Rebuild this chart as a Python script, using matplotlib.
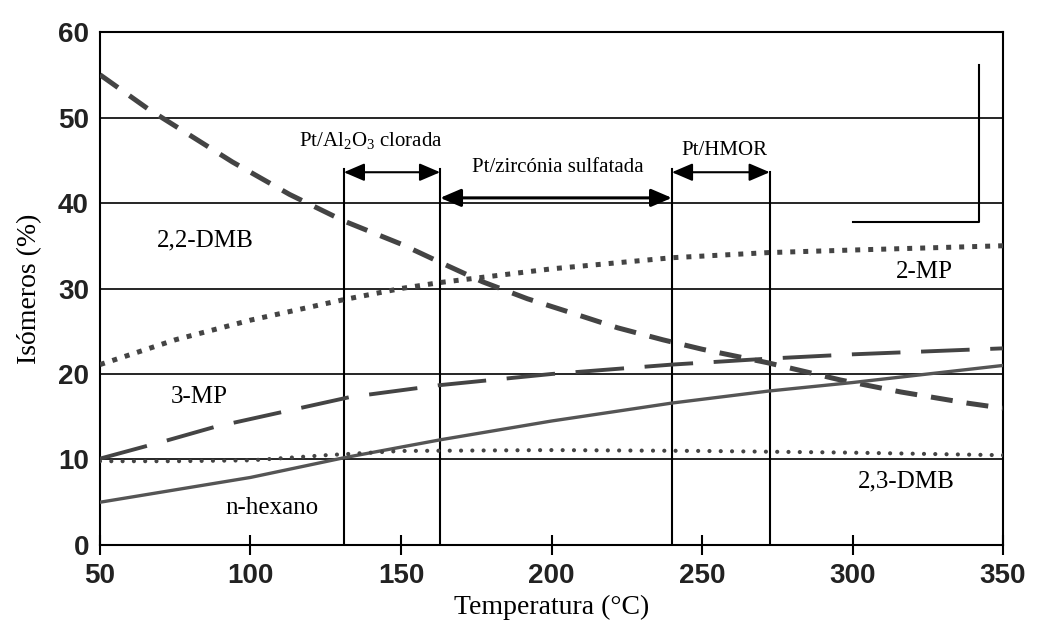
import matplotlib.pyplot as plt

plt.rcParams['mathtext.fontset'] = 'custom'
plt.rcParams['mathtext.rm'] = 'Liberation Serif'
plt.rcParams['mathtext.it'] = 'Liberation Serif:italic'

# Values
dmb22_x = [50, 66, 80, 94, 113, 131, 150, 164, 177, 192, 208, 222, 237, 250, 272, 296, 316, 338, 350]
dmb22_y = [55.0, 51.0, 47.9, 44.8, 41.0, 37.9, 35.2, 32.9, 30.8, 28.8, 27.0, 25.4, 24.0, 22.9, 21.3, 19.3, 17.9, 16.6, 16.0]

mp2_x = [50, 75, 100, 131, 150, 163, 200, 240, 272, 300, 350]
mp2_y = [21.1, 24.0, 26.3, 28.7, 30.0, 30.7, 32.3, 33.6, 34.2, 34.5, 35.0]

mp3_x = [50, 72, 88, 133, 163, 200, 240, 272, 300, 350]
mp3_y = [10.1, 12.2, 13.8, 17.3, 18.7, 20.0, 21.1, 21.8, 22.3, 23.0]

hex_x = [50, 100, 131, 163, 200, 240, 272, 300, 350]
hex_y = [5.0, 7.9, 10.2, 12.3, 14.5, 16.6, 18.0, 19.0, 21.0]

dmb23_x = [50, 75, 100, 125, 150, 200, 250, 300, 350]
dmb23_y = [9.8, 9.8, 9.9, 10.5, 11.0, 11.1, 11.0, 10.8, 10.5]

catalyst_bounds = [131, 163, 240, 272.5]
curve_labels = ['2,2-DMB', '2-MP', '3-MP', 'n-hexano', '2,3-DMB']
curve_label_pos = [(85, 35.6), (324, 31.9), (83, 17.3), (107, 4.3), (318, 7.4)]

serif = 'Liberation Serif'
sans = 'Liberation Sans'
gray = '#444444'

fig = plt.figure(figsize=(10.46, 6.28), dpi=100)
ax = fig.add_axes([0.0956, 0.1322, 0.8633, 0.8168])

# grid lines (horizontal only)
for yv in [10, 20, 30, 40, 50]:
    ax.axhline(yv, color='black', lw=1.2, zorder=1)

# curves
ax.plot(dmb22_x, dmb22_y, color=gray, lw=3.6, dashes=(4.4, 2.8), dash_capstyle='butt', zorder=3)
ax.plot(mp2_x, mp2_y, color=gray, lw=3.6, dashes=(1, 1.6), dash_capstyle='butt', zorder=3)
ax.plot(mp3_x, mp3_y, color=gray, lw=2.8, dashes=(12.5, 5.3), dash_capstyle='butt', zorder=3)
ax.plot(hex_x, hex_y, color='#555555', lw=2.4, zorder=3)
ax.plot(dmb23_x, dmb23_y, color=gray, lw=3.0, dashes=(0.01, 2.7), dash_capstyle='round', zorder=3)

# catalyst range markers
tops = [44, 44, 44, 43.6]
for xv, top in zip(catalyst_bounds, tops):
    ax.plot([xv, xv], [0, top], color='black', lw=1.5, zorder=2)

arrow = dict(arrowstyle='<|-|>,head_length=0.7,head_width=0.3', color='black',
             lw=1.5, mutation_scale=18, shrinkA=0, shrinkB=0)
ax.annotate('', xy=(catalyst_bounds[0], 43.6), xytext=(catalyst_bounds[1], 43.6), arrowprops=arrow)
ax.annotate('', xy=(catalyst_bounds[1], 40.6), xytext=(catalyst_bounds[2], 40.6),
            arrowprops=dict(arrow, lw=2.2))
ax.annotate('', xy=(catalyst_bounds[2], 43.6), xytext=(catalyst_bounds[3], 43.6), arrowprops=arrow)

ax.text(140, 47.3, r'Pt/Al$_2$O$_3$ clorada', family=serif, fontsize=15, ha='center', va='center')
ax.text(202, 44.1, 'Pt/zircónia sulfatada', family=serif, fontsize=15, ha='center', va='center')
ax.text(257.5, 46.1, 'Pt/HMOR', family=serif, fontsize=15, ha='center', va='center')

# odd corner line at upper right
ax.plot([342, 342, 300], [56.1, 37.8, 37.8], color='black', lw=1.5, zorder=2)

for lab, (lx, ly) in zip(curve_labels, curve_label_pos):
    ax.text(lx, ly, lab, family=serif, fontsize=18, ha='center', va='center')

ax.set_xlim(50, 350)
ax.set_ylim(0, 60)
ax.set_xticks([50, 100, 150, 200, 250, 300, 350])
ax.set_yticks([0, 10, 20, 30, 40, 50, 60])
ax.tick_params(axis='x', direction='inout', length=14, width=1.5, pad=6)
ax.tick_params(axis='y', length=0, pad=8)
for t in ax.get_xticklabels() + ax.get_yticklabels():
    t.set_family(sans)
    t.set_fontsize(20)
    t.set_fontweight('bold')
    t.set_color('#222222')
for sp in ax.spines.values():
    sp.set_linewidth(1.5)

ax.set_xlabel('Temperatura (°C)', family=serif, fontsize=20, labelpad=4)
ax.set_ylabel('Isómeros (%)', family=serif, fontsize=20, labelpad=11)

fig.savefig('out.png', dpi=100)
